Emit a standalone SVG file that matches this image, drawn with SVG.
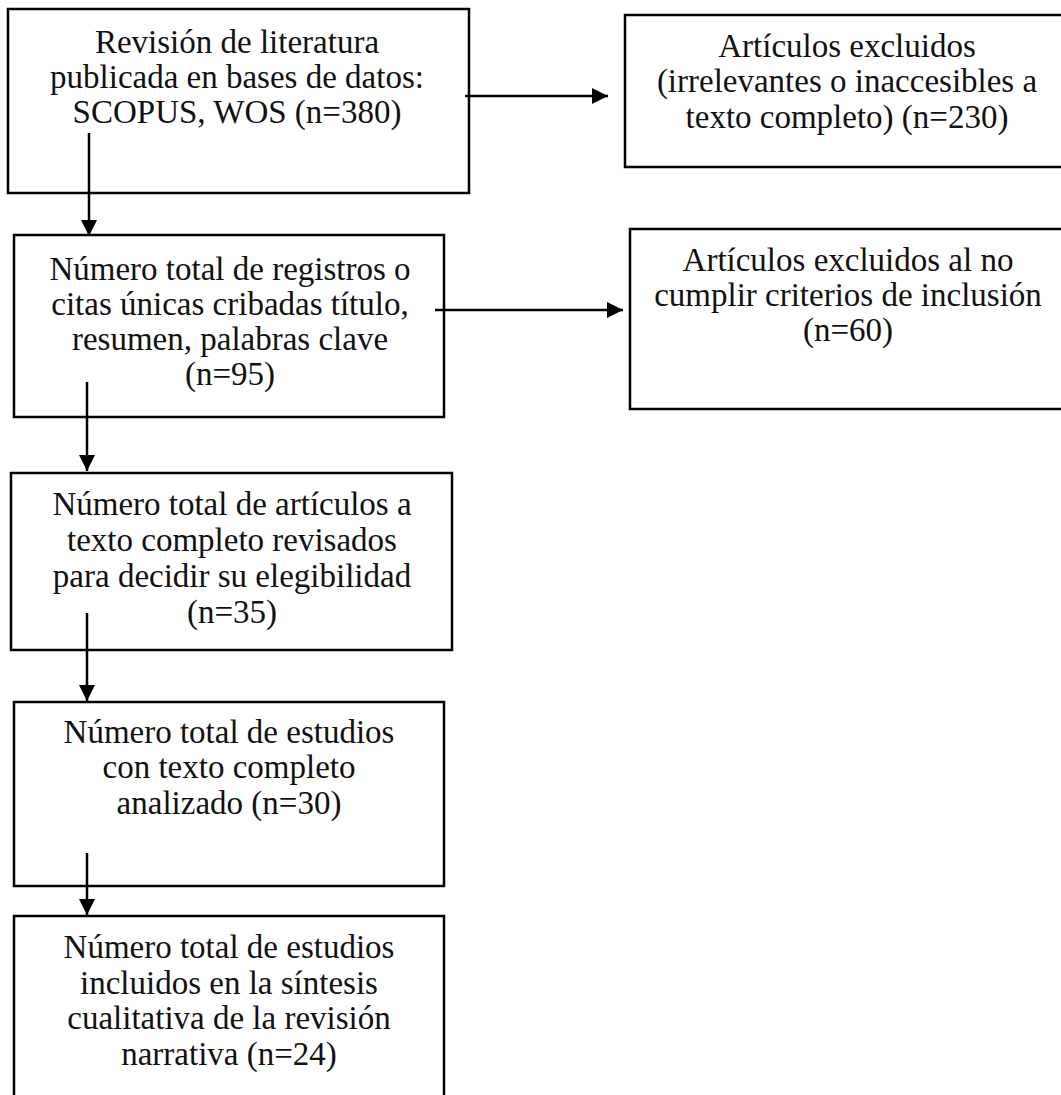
<svg xmlns="http://www.w3.org/2000/svg" width="1061" height="1095" viewBox="0 0 1061 1095">
<style>
.box{fill:#fff;stroke:#000;stroke-width:2.5}
.t{font-family:"Liberation Serif","Times New Roman",serif;font-size:33px;fill:#111;text-anchor:middle}
.c{stroke:#000;stroke-width:2.5;fill:none}
</style>
<defs>
<marker id="ah" markerUnits="userSpaceOnUse" markerWidth="18" markerHeight="18" refX="16" refY="8" orient="auto">
<path d="M0,0 L16,8 L0,16 Z" fill="#000"/>
</marker>
</defs>
<g id="n1"><rect class="box" x="8" y="9" width="461" height="184"/>
<text class="t" x="237" y="53">Revisión de literatura</text>
<text class="t" x="237" y="88">publicada en bases de datos:</text>
<text class="t" x="237" y="123">SCOPUS, WOS (n=380)</text></g>
<g id="n2"><rect class="box" x="14" y="235" width="430" height="182"/>
<text class="t" x="230" y="280">Número total de registros o</text>
<text class="t" x="230" y="315">citas únicas cribadas título,</text>
<text class="t" x="230" y="350">resumen, palabras clave</text>
<text class="t" x="230" y="385">(n=95)</text></g>
<g id="n3"><rect class="box" x="11" y="473" width="441" height="177"/>
<text class="t" x="232" y="515">Número total de artículos a</text>
<text class="t" x="232" y="551">texto completo revisados</text>
<text class="t" x="232" y="587">para decidir su elegibilidad</text>
<text class="t" x="232" y="623">(n=35)</text></g>
<g id="n4"><rect class="box" x="14" y="702" width="430" height="184"/>
<text class="t" x="229" y="743">Número total de estudios</text>
<text class="t" x="229" y="778">con texto completo</text>
<text class="t" x="229" y="814">analizado (n=30)</text></g>
<g id="n5"><rect class="box" x="14" y="916" width="430" height="200"/>
<text class="t" x="229" y="958">Número total de estudios</text>
<text class="t" x="229" y="994">incluidos en la síntesis</text>
<text class="t" x="229" y="1029">cualitativa de la revisión</text>
<text class="t" x="229" y="1065">narrativa (n=24)</text></g>
<g id="r1"><rect class="box" x="625" y="15" width="500" height="152"/>
<text class="t" x="847" y="57">Artículos excluidos</text>
<text class="t" x="847" y="92">(irrelevantes o inaccesibles a</text>
<text class="t" x="847" y="128">texto completo) (n=230)</text></g>
<g id="r2"><rect class="box" x="630" y="229" width="500" height="180"/>
<text class="t" x="848" y="271">Artículos excluidos al no</text>
<text class="t" x="848" y="306">cumplir criterios de inclusión</text>
<text class="t" x="848" y="341">(n=60)</text></g>
<g id="connectors">
<line class="c" x1="89" y1="133" x2="89" y2="236" marker-end="url(#ah)"/>
<line class="c" x1="87" y1="382" x2="87" y2="471" marker-end="url(#ah)"/>
<line class="c" x1="87" y1="613" x2="87" y2="701" marker-end="url(#ah)"/>
<line class="c" x1="87" y1="853" x2="87" y2="915" marker-end="url(#ah)"/>
<line class="c" x1="465" y1="96" x2="608" y2="96" marker-end="url(#ah)"/>
<line class="c" x1="435" y1="310" x2="623" y2="310" marker-end="url(#ah)"/>
</g>
</svg>
